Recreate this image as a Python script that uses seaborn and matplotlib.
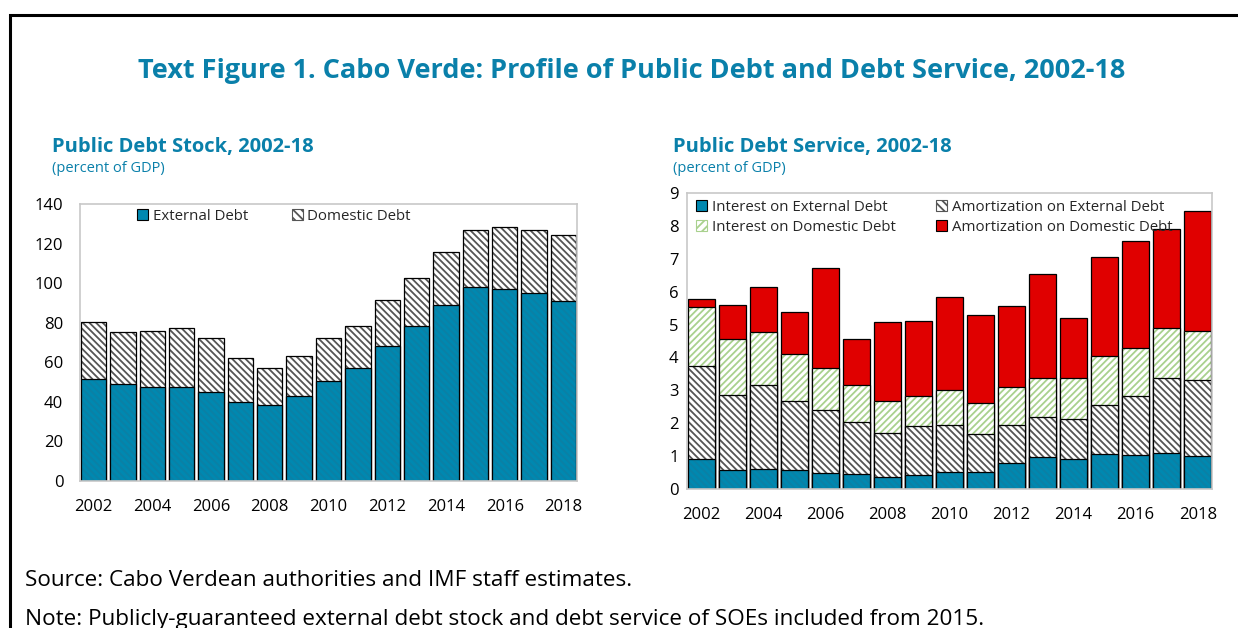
import matplotlib
matplotlib.use("Agg")
import matplotlib.pyplot as plt
from matplotlib.patches import Patch, Rectangle
import numpy as np
import pandas as pd
import seaborn as sns

# ---- data -------------------------------------------------------------
years = [str(y) for y in range(2002, 2019)]
year_labels = [y if int(y) % 2 == 0 else "" for y in years]

# Public debt stock (percent of GDP)
external_debt = [51.4, 48.9, 47.7, 47.7, 44.8, 39.8, 38.4, 42.8, 50.7, 56.9,
                 68.2, 78.3, 88.8, 97.9, 96.9, 94.8, 90.8]
domestic_debt = [29.1, 26.4, 27.9, 29.8, 27.3, 22.5, 18.9, 20.2, 21.4, 21.6,
                 23.1, 24.5, 27.1, 28.8, 31.5, 32.2, 33.4]

# Public debt service (percent of GDP)
interest_external = [0.91, 0.58, 0.61, 0.57, 0.50, 0.46, 0.37, 0.43, 0.51, 0.51,
                     0.78, 0.97, 0.91, 1.06, 1.02, 1.10, 1.01]
amort_external = [2.82, 2.29, 2.54, 2.12, 1.91, 1.59, 1.34, 1.49, 1.45, 1.17,
                  1.18, 1.22, 1.23, 1.50, 1.81, 2.27, 2.31]
interest_domestic = [1.81, 1.69, 1.63, 1.42, 1.27, 1.11, 0.97, 0.90, 1.06, 0.94,
                     1.13, 1.20, 1.22, 1.49, 1.45, 1.54, 1.49]
amort_domestic = [0.23, 1.03, 1.36, 1.26, 3.03, 1.39, 2.41, 2.29, 2.83, 2.67,
                  2.48, 3.15, 1.83, 2.99, 3.26, 3.01, 3.63]

# ---- style ------------------------------------------------------------
sns.set_theme(style="white")
plt.rcParams["font.family"] = ["Open Sans", "DejaVu Sans"]
plt.rcParams["hatch.linewidth"] = 1.3

TEAL = "#0A80AA"
BLUE = "#0088B0"
BLUE_TEXTURE = "#0B80A5"
RED = "#E00000"
GREEN_HATCH = "#A9D18E"
GRAY_HATCH = "#555555"
SPINE = "#C8C8C8"
BAR_W = 0.86
EDGE_LW = 0.9
DIAG_DOWN = "\\" * 5
DIAG_UP = "/" * 5


def outline(ax, values):
    sns.barplot(x=years, y=values, ax=ax, color="black", width=BAR_W,
                fill=False, linewidth=EDGE_LW, errorbar=None, order=years)


def textured_layer(ax, values, face, hatch_color, hatch):
    sns.barplot(x=years, y=values, ax=ax, color=face, width=BAR_W,
                edgecolor=hatch_color, linewidth=0.0, hatch=hatch,
                saturation=1, errorbar=None, order=years)
    outline(ax, values)


def solid_layer(ax, values, face):
    sns.barplot(x=years, y=values, ax=ax, color=face, width=BAR_W,
                edgecolor="black", linewidth=EDGE_LW, saturation=1,
                errorbar=None, order=years)


fig = plt.figure(figsize=(12.38, 6.28), dpi=100)
fig.patch.set_facecolor("white")

ax1 = fig.add_axes([80 / 1238, 1 - 481 / 628, 497 / 1238, 277 / 628])
ax2 = fig.add_axes([687 / 1238, 1 - 489 / 628, 525 / 1238, 296 / 628])

# ---- left panel: debt stock -------------------------------------------
stock_total = np.array(external_debt) + np.array(domestic_debt)
textured_layer(ax1, stock_total, "white", GRAY_HATCH, DIAG_DOWN)
textured_layer(ax1, external_debt, BLUE, BLUE_TEXTURE, DIAG_DOWN)

ax1.set_ylim(0, 140)
ax1.set_yticks(range(0, 141, 20))
ax1.set_xlim(-0.46, len(years) - 0.54)

leg1 = [Patch(facecolor=BLUE, edgecolor="black", linewidth=0.8),
        Patch(facecolor="white", edgecolor=GRAY_HATCH, hatch="\\\\\\\\", linewidth=0.8)]
ax1.legend(leg1, ["External Debt", "Domestic Debt"], ncol=2, frameon=False,
           loc="upper left", bbox_to_anchor=(0.097, 1.015), fontsize=10.8,
           handlelength=0.75, handleheight=0.75, handletextpad=0.3,
           columnspacing=2.9, borderaxespad=0.2)

# ---- right panel: debt service ----------------------------------------
c1 = np.array(interest_external)
c2 = c1 + np.array(amort_external)
c3 = c2 + np.array(interest_domestic)
c4 = c3 + np.array(amort_domestic)

solid_layer(ax2, c4, RED)
textured_layer(ax2, c3, "white", GREEN_HATCH, DIAG_UP)
textured_layer(ax2, c2, "white", GRAY_HATCH, DIAG_DOWN)
textured_layer(ax2, c1, BLUE, BLUE_TEXTURE, DIAG_DOWN)

ax2.set_ylim(0, 9)
ax2.set_yticks(range(0, 10))
ax2.set_xlim(-0.46, len(years) - 0.54)

leg2 = [Patch(facecolor=BLUE, edgecolor="black", linewidth=0.8),
        Patch(facecolor="white", edgecolor=GREEN_HATCH, hatch="////", linewidth=0.8),
        Patch(facecolor="white", edgecolor=GRAY_HATCH, hatch="\\\\\\\\", linewidth=0.8),
        Patch(facecolor=RED, edgecolor="black", linewidth=0.8)]
ax2.legend(leg2, ["Interest on External Debt", "Interest on Domestic Debt",
                  "Amortization on External Debt", "Amortization on Domestic Debt"],
           ncol=2, frameon=False, loc="upper left", bbox_to_anchor=(0.0, 1.008),
           fontsize=10.8, handlelength=0.75, handleheight=0.75,
           handletextpad=0.3, columnspacing=2.7, labelspacing=0.36,
           borderaxespad=0.2)

# ---- shared axis styling ----------------------------------------------
for ax, ypad, xpad in ((ax1, 12, 13), (ax2, 6, 13)):
    for s in ax.spines.values():
        s.set_color(SPINE)
        s.set_linewidth(1.2)
    ax.set_xticks(range(len(years)))
    ax.set_xticklabels(year_labels)
    ax.set_xlabel("")
    ax.set_ylabel("")
    ax.tick_params(axis="x", length=0, pad=xpad, labelsize=12, colors="black")
    ax.tick_params(axis="y", direction="in", length=4, color=SPINE, width=1,
                   pad=ypad, labelsize=12, labelcolor="black")

# ---- titles and notes --------------------------------------------------
fig.text(0.510, 1 - 71 / 628,
         "Text Figure 1. Cabo Verde: Profile of Public Debt and Debt Service, 2002-18",
         ha="center", va="center", fontsize=19.5, fontweight="bold", color=TEAL)

fig.text(52 / 1238, 1 - 147 / 628, "Public Debt Stock, 2002-18",
         ha="left", va="center", fontsize=14.5, fontweight="bold", color=TEAL)
fig.text(52 / 1238, 1 - 169 / 628, "(percent of GDP)",
         ha="left", va="center", fontsize=10.5, color=TEAL)
fig.text(673 / 1238, 1 - 147 / 628, "Public Debt Service, 2002-18",
         ha="left", va="center", fontsize=14.5, fontweight="bold", color=TEAL)
fig.text(673 / 1238, 1 - 169 / 628, "(percent of GDP)",
         ha="left", va="center", fontsize=10.5, color=TEAL)

fig.text(25 / 1238, 1 - 580 / 628,
         "Source: Cabo Verdean authorities and IMF staff estimates.",
         ha="left", va="center", fontsize=16.2, color="black")
fig.text(25 / 1238, 1 - 619 / 628,
         "Note: Publicly-guaranteed external debt stock and debt service of SOEs included from 2015.",
         ha="left", va="center", fontsize=16.2, color="black")

# outer frame around the whole exhibit
fig.patches.append(Rectangle((9.5 / 1238, -0.2), 1.2, 1 - 14.5 / 628 + 0.2,
                             transform=fig.transFigure, fill=False,
                             edgecolor="black", linewidth=2.2))

fig.savefig("out.png", dpi=100, facecolor="white")
